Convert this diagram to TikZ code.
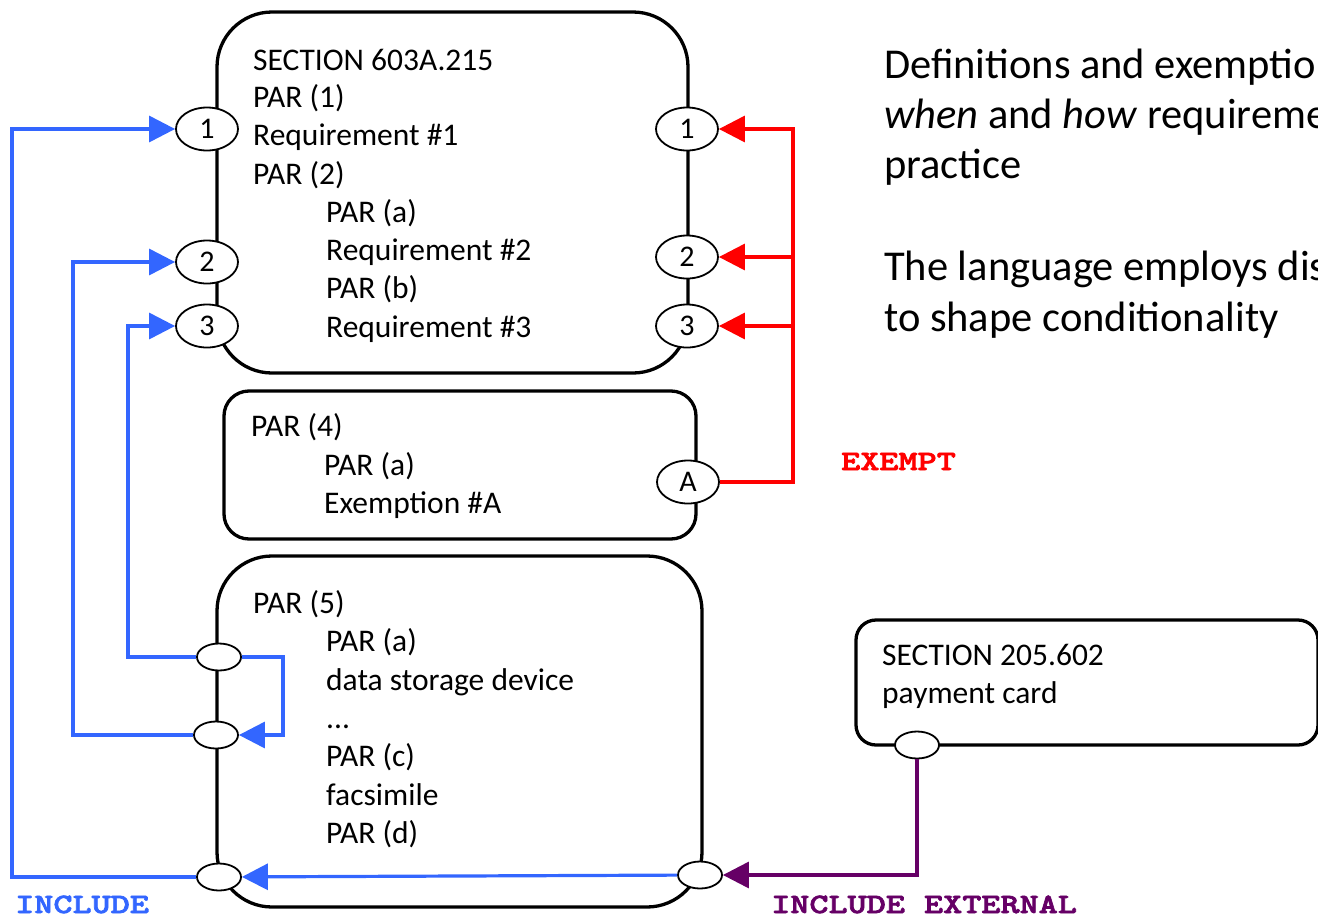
\documentclass[tikz,border=0pt]{standalone}
\usepackage{fontspec}
\setmainfont{Carlito}
\newfontfamily\codefont{lmmonolt10-bold.otf}[FakeStretch=1.3,FakeBold=2.5]
\usetikzlibrary{arrows.meta,shapes.geometric}
\definecolor{incblue}{RGB}{51,102,255}
\definecolor{extpurple}{RGB}{102,0,102}
\definecolor{exred}{RGB}{255,0,0}
\begin{document}
\begin{tikzpicture}[x=1pt,y=-1pt,
  box/.style={draw=black, line width=3.3pt, inner sep=0pt, rectangle},
  port/.style={ellipse, draw=black, line width=1.8pt, fill=white, inner sep=0pt,
    minimum width=62pt, minimum height=43pt, font=\fontsize{30}{30}\selectfont},
  hook/.style={ellipse, draw=black, line width=1.8pt, fill=white, inner sep=0pt,
    minimum width=44pt, minimum height=27pt},
  txt/.style={anchor=base west, inner sep=0pt, font=\fontsize{31.5}{38}\selectfont},
  rtxt/.style={anchor=base west, inner sep=0pt, font=\fontsize{42.5}{50}\selectfont},
  lbl/.style={anchor=base west, inner sep=0pt, font=\codefont\fontsize{28}{28}\selectfont},
  tip/.style={-{Triangle[length=26pt,width=26pt]}},
  inc/.style={draw=incblue, line width=3.2pt},
  ex/.style={draw=exred, line width=3.2pt},
  ext/.style={draw=extpurple, line width=3.2pt}]
\useasboundingbox (0,0) rectangle (1318,919);
\clip (0,0) rectangle (1318,919);

% section boxes
\node[box, rounded corners=55pt, minimum width=471pt, minimum height=361pt] (s603) at (452.5,192.5) {};
\node[box, rounded corners=25pt, minimum width=472pt, minimum height=148pt] (p4) at (460,465) {};
\node[box, rounded corners=55pt, minimum width=485pt, minimum height=351pt] (p5) at (459.5,731.5) {};
\node[box, rounded corners=20pt, minimum width=462pt, minimum height=125pt] (s205) at (1087,682.5) {};

% text of SECTION 603A.215
\node[txt] (t1) at (253,70) {SECTION 603A.215};
\node[txt] (t2) at (253,107) {PAR (1)};
\node[txt] (t3) at (253,145) {Requirement \#1};
\node[txt] (t4) at (253,184) {PAR (2)};
\node[txt] (t5) at (326,222) {PAR (a)};
\node[txt] (t6) at (326,260) {Requirement \#2};
\node[txt] (t7) at (326,298) {PAR (b)};
\node[txt] (t8) at (326,337) {Requirement \#3};

% text of PAR (4)
\node[txt] (u1) at (251,436) {PAR (4)};
\node[txt] (u2) at (324,475) {PAR (a)};
\node[txt] (u3) at (324,513) {Exemption \#A};

% text of PAR (5)
\node[txt] (v1) at (253,613) {PAR (5)};
\node[txt] (v2) at (326,651) {PAR (a)};
\node[txt] (v3) at (326,690) {data storage device};
\node[txt] (v4) at (326,728) {...};
\node[txt] (v5) at (326,766) {PAR (c)};
\node[txt] (v6) at (326,805) {facsimile};
\node[txt] (v7) at (326,843) {PAR (d)};

% text of SECTION 205.602
\node[txt] (w1) at (882,665) {SECTION 205.602};
\node[txt] (w2) at (882,703) {payment card};

% commentary
\node[rtxt] (c1) at (884,78) {Definitions and exemptio};
\node[rtxt] (c2) at (884,128) {\textit{when} and \textit{how} requireme};
\node[rtxt] (c3) at (884,178) {practice};
\node[rtxt] (c4) at (884,280) {The language employs dis};
\node[rtxt] (c5) at (884,331) {to shape conditionality};

% ports
\node[port] (eL1) at (207,129) {1};
\node[port] (eL2) at (207,262) {2};
\node[port] (eL3) at (207,326) {3};
\node[port] (eR1) at (687,129) {1};
\node[port] (eR2) at (687,257) {2};
\node[port] (eR3) at (687,326) {3};
\node[port] (eA) at (688,482) {A};
\node[hook] (h5a) at (219,657) {};
\node[hook] (h5b) at (216,735) {};
\node[hook] (h5d) at (219,877) {};
\node[hook] (h5e) at (700,875) {};
\node[hook] (h4) at (917,745) {};

% bend points
\coordinate (k1) at (12,129);
\coordinate (k2) at (73,262);
\coordinate (k3) at (128,326);
\coordinate (k4) at (283,735);
\coordinate (r1) at (793,129);
\coordinate (r2) at (793,257);
\coordinate (r3) at (793,326);

% include links
\draw[inc, tip] (h5d) -| (k1) -- (eL1);
\draw[inc, tip] (h5b) -| (k2) -- (eL2);
\draw[inc, tip] (h5a) -| (k3) -- (eL3);
\draw[inc, tip] (h5a) -| (k4) -- (h5b);
\draw[inc, tip] (h5e) -- (h5d);

% exemption links
\draw[ex, tip] (eA) -| (r1) -- (eR1);
\draw[ex, tip] (r2) -- (eR2);
\draw[ex, tip] (r3) -- (eR3);

% external include
\draw[ext, tip] (h4) |- (h5e);

% link labels
\node[lbl, text=incblue] (lInc) at (15,913) {INCLUDE};
\node[lbl, text=exred] (lEx) at (841,470) {EXEMPT};
\node[lbl, text=extpurple] (lExt) at (771,913) {INCLUDE EXTERNAL};
\end{tikzpicture}
\end{document}
